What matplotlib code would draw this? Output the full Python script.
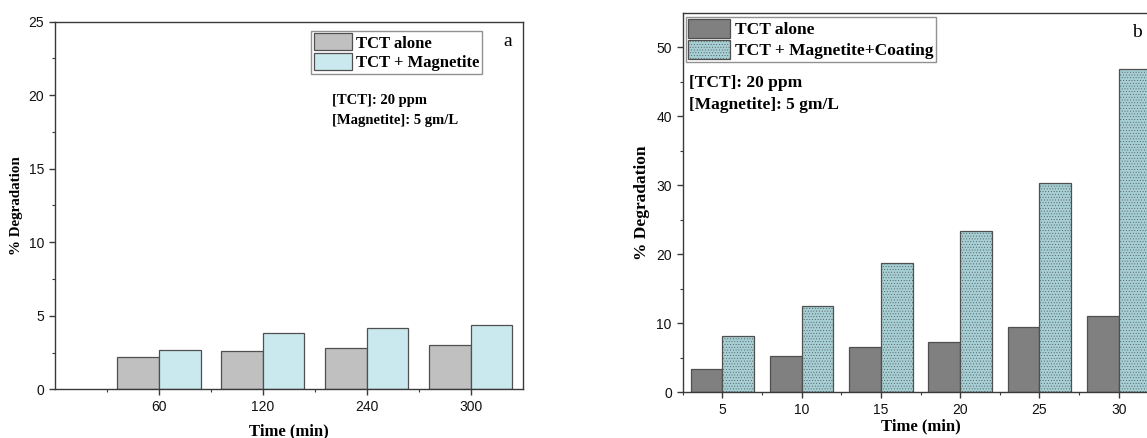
import matplotlib
matplotlib.use("Agg")
import matplotlib.pyplot as plt
import numpy as np
from matplotlib.ticker import FixedLocator

# ---- data ----
times_a = ["60", "120", "240", "300"]
tct_alone_a = [2.2, 2.6, 2.8, 3.0]
tct_magnetite_a = [2.7, 3.8, 4.2, 4.4]

times_b = ["5", "10", "15", "20", "25", "30"]
tct_alone_b = [3.35, 5.25, 6.55, 7.3, 9.5, 11.0]
tct_coating_b = [8.2, 12.45, 18.7, 23.4, 30.3, 46.9]

serif = ["Liberation Serif", "DejaVu Serif"]
sans = ["Liberation Sans", "DejaVu Sans"]

plt.rcParams["hatch.linewidth"] = 0.3
plt.rcParams["hatch.color"] = "#93c0c5"

fig = plt.figure(figsize=(11.47, 4.38), dpi=100)

spine_col = "#3a3a3a"
edge_col = "#505050"

def style_axes(ax):
    for s in ax.spines.values():
        s.set_color(spine_col)
        s.set_linewidth(1.0)
    ax.tick_params(which="both", direction="out", colors=spine_col, top=False, right=False)
    ax.tick_params(which="major", length=4.3, width=1.0, pad=3.5, labelsize=10,
                   labelcolor="#111111")
    ax.tick_params(which="minor", length=2.5, width=0.8)
    for lab in ax.get_xticklabels() + ax.get_yticklabels():
        lab.set_fontfamily(sans)

# ---------- panel a ----------
axa = fig.add_axes([0.0480, 0.1112, 0.4076, 0.8393])
xa = np.arange(1, len(times_a) + 1)
w = 0.4
axa.bar(xa - w / 2, tct_alone_a, w, color="#c0c0c0", edgecolor=edge_col, linewidth=0.9,
        label="TCT alone")
axa.bar(xa + w / 2, tct_magnetite_a, w, color="#c9e9ee", edgecolor=edge_col, linewidth=0.9,
        label="TCT + Magnetite")
axa.set_xlim(0, 4.5)
axa.set_ylim(0, 25)
axa.set_xticks(xa)
axa.set_xticklabels(times_a)
axa.xaxis.set_minor_locator(FixedLocator(np.arange(0.5, 4.5, 1.0)))
axa.set_yticks(np.arange(0, 26, 5))
axa.yaxis.set_minor_locator(FixedLocator(np.arange(2.5, 25, 5)))
style_axes(axa)
axa.set_ylabel("% Degradation", fontfamily=serif, fontweight="bold", fontsize=10.8)
axa.yaxis.set_label_coords(-0.068, 0.5)
axa.set_xlabel("Time (min)", fontfamily=serif, fontweight="bold", fontsize=12)
axa.xaxis.set_label_coords(0.5, -0.093)
leg = axa.legend(loc="upper left", bbox_to_anchor=(0.548, 0.975), frameon=True, fancybox=False,
                 prop={"family": serif, "weight": "bold", "size": 12},
                 handlelength=2.3, handleheight=1.2, handletextpad=0.25, labelspacing=0.1,
                 borderpad=0.15, borderaxespad=0.0)
leg.get_frame().set_edgecolor("#777777")
leg.get_frame().set_linewidth(1.0)
axa.text(0.969, 0.945, "a", transform=axa.transAxes, fontfamily=serif, fontsize=14,
         ha="center", va="center")
axa.text(0.592, 0.802, "[TCT]: 20 ppm\n[Magnetite]: 5 gm/L", transform=axa.transAxes,
         fontfamily=serif, fontweight="bold", fontsize=10.5, ha="left", va="top",
         linespacing=1.65)

# ---------- panel b ----------
axb = fig.add_axes([0.5952, 0.1043, 0.4147, 0.8660])
xb = np.arange(1, len(times_b) + 1)
axb.bar(xb - w / 2, tct_alone_b, w, color="#808080", edgecolor=edge_col, linewidth=0.9,
        label="TCT alone")
axb.bar(xb + w / 2, tct_coating_b, w, color="#a5cfd4", edgecolor=edge_col, linewidth=0.9,
        hatch="......", label="TCT + Magnetite+Coating")
axb.set_xlim(0.5, 6.5)
axb.set_ylim(0, 55)
axb.set_xticks(xb)
axb.set_xticklabels(times_b)
axb.xaxis.set_minor_locator(FixedLocator(np.arange(0.5, 7, 1.0)))
axb.set_yticks(np.arange(0, 51, 10))
axb.yaxis.set_minor_locator(FixedLocator(np.arange(5, 55, 10)))
style_axes(axb)
axb.set_ylabel("% Degradation", fontfamily=serif, fontweight="bold", fontsize=12.5)
axb.yaxis.set_label_coords(-0.068, 0.5)
axb.set_xlabel("Time (min)", fontfamily=serif, fontweight="bold", fontsize=12)
axb.xaxis.set_label_coords(0.5, -0.07)
legb = axb.legend(loc="upper left", bbox_to_anchor=(0.006, 0.99), frameon=True, fancybox=False,
                  prop={"family": serif, "weight": "bold", "size": 12.5},
                  handlelength=2.4, handleheight=1.25, handletextpad=0.3, labelspacing=0.1,
                  borderpad=0.15, borderaxespad=0.0)
legb.get_frame().set_edgecolor("#777777")
legb.get_frame().set_linewidth(1.0)
axb.text(0.955, 0.948, "b", transform=axb.transAxes, fontfamily=serif, fontsize=14,
         ha="center", va="center")
axb.text(0.013, 0.836, "[TCT]: 20 ppm\n[Magnetite]: 5 gm/L", transform=axb.transAxes,
         fontfamily=serif, fontweight="bold", fontsize=12.5, ha="left", va="top",
         linespacing=1.45)

fig.savefig("out.png", dpi=100)
